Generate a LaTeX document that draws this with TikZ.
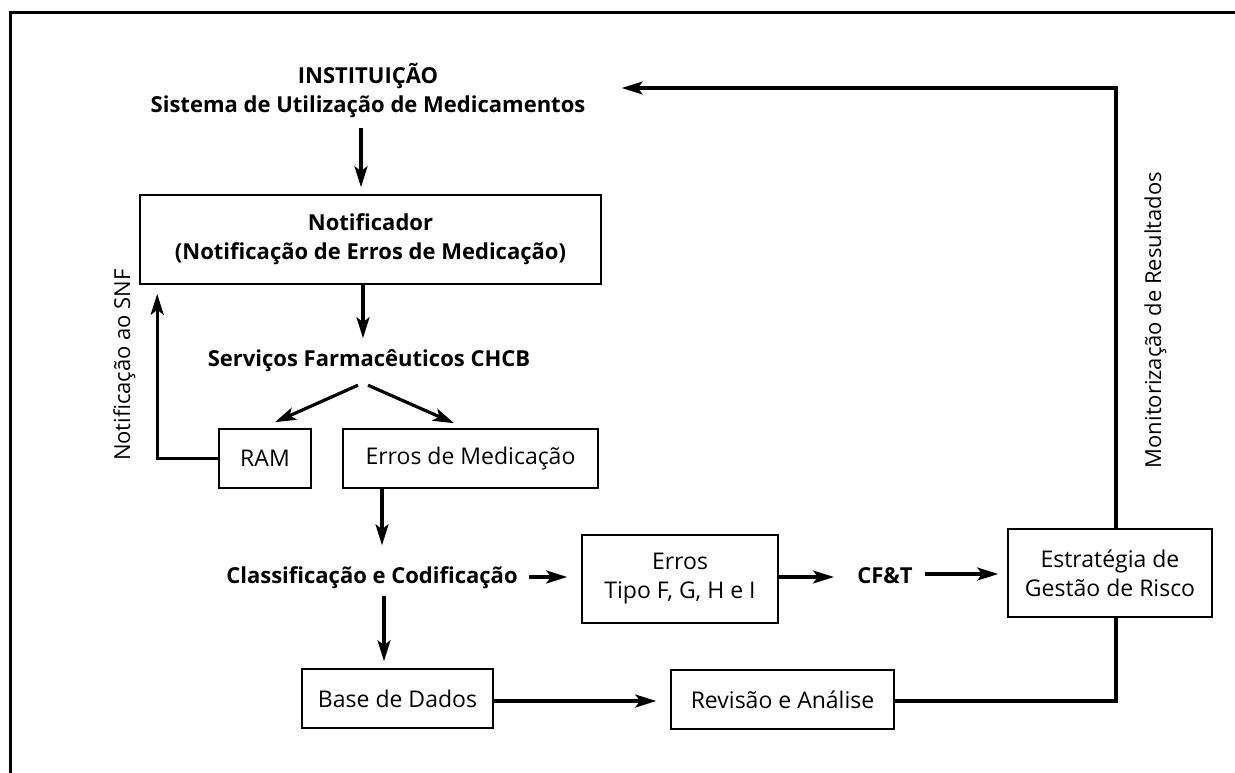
\documentclass[tikz,border=0pt]{standalone}
\usepackage{fontspec}
\setmainfont{Open Sans}
\usepackage{tikz}
\usetikzlibrary{arrows.meta}

\begin{document}
\begin{tikzpicture}[x=0.5pt,y=-0.5pt,>={Stealth[length=10.5pt,width=6.5pt,inset=2.5pt]},
	box/.style={draw,line width=0.8pt,align=center,inner sep=0pt,font=\fontsize{11.5}{14.5}\selectfont},
	lbl/.style={inner sep=0pt,align=center,font=\fontsize{11}{14.5}\selectfont\bfseries},
	side/.style={inner sep=0pt,rotate=90,anchor=base,font=\fontsize{11}{13}\selectfont},
	arr/.style={->,line width=1.6pt},
	wire/.style={line width=1.6pt}]
	\useasboundingbox (0,0) rectangle (1235,772);
	\draw[line width=1.5pt] (10.7,790) |- (1250,12.5);
	\node[lbl] (inst) at (368,90) {INSTITUIÇÃO\\Sistema de Utilização de Medicamentos};
	\node[box,font=\fontsize{11}{14.5}\selectfont\bfseries,minimum width=230.5pt,minimum height=44.5pt] (notif) at (370.5,239.5) {Notificador\\(Notificação de Erros de Medicação)};
	\node[lbl,anchor=base] (serv) at (369,366) {Serviços Farmacêuticos CHCB};
	\node[box,minimum width=46pt,minimum height=29.5pt] (ram) at (265,458.5) {RAM};
	\node[box,minimum width=127.5pt,minimum height=29.5pt] (errmed) at (470.5,458.5) {Erros de Medicação};
	\node[lbl,anchor=base] (classif) at (372,583) {Classificação e Codificação};
	\node[box,minimum width=98pt,minimum height=44pt] (errtipo) at (680,579) {Erros\\Tipo F, G, H e I};
	\node[lbl,anchor=base] (cft) at (885,583) {CF\&T};
	\node[box,minimum width=102pt,minimum height=44pt] (estrat) at (1110,573) {Estratégia de\\Gestão de Risco};
	\node[box,minimum width=95.5pt,minimum height=29.5pt] (base) at (397.5,698.5) {Base de Dados};
	\node[box,minimum width=111.5pt,minimum height=29.5pt] (rev) at (782.5,699.5) {Revisão e Análise};
	\node[side] (snf) at (130,365) {Notificação ao SNF};
	\node[side] (monit) at (1161,320) {Monitorização de Resultados};
	\draw[arr,shorten <=5.25pt,shorten >=3.5pt] (inst.south -| 361,0) -- (notif.north -| 361,0);
	\draw[arr,shorten >=5.25pt] (notif.south -| 363,0) -- (serv.north -| 363,0);
	\draw[arr] ([shift={(-11,13.5)}]serv.south) -- ([shift={(10,-6)}]ram.north);
	\draw[arr] ([shift={(-1,13.5)}]serv.south) -- ([shift={(-16.5,-5)}]errmed.north);
	\draw[arr] (ram.west) -| ([shift={(18,9)}]notif.south west);
	\draw[arr,shorten >=10.25pt] (errmed.south -| 382,0) -- (classif.north -| 382,0);
	\draw[arr,shorten <=3.75pt,shorten >=3.5pt] (classif.south -| 384,0) -- (base.north -| 384,0);
	\draw[arr,shorten <=5.5pt,shorten >=7pt] (classif.east |- 0,577) -- (errtipo.west |- 0,577);
	\draw[arr,shorten >=11.5pt] (errtipo.east |- 0,577) -- (cft.west |- 0,577);
	\draw[arr,shorten <=6pt,shorten >=4.5pt] (cft.east |- 0,574) -- (estrat.west |- 0,574);
	\draw[arr,shorten >=7pt] (base.east |- 0,701) -- (rev.west |- 0,701);
	\draw[wire] (rev.east |- 0,701) -| (estrat.south -| 1116,0);
	\draw[arr,shorten >=18pt] (estrat.north -| 1116,0) |- (inst.east |- 0,88);
\end{tikzpicture}
\end{document}
